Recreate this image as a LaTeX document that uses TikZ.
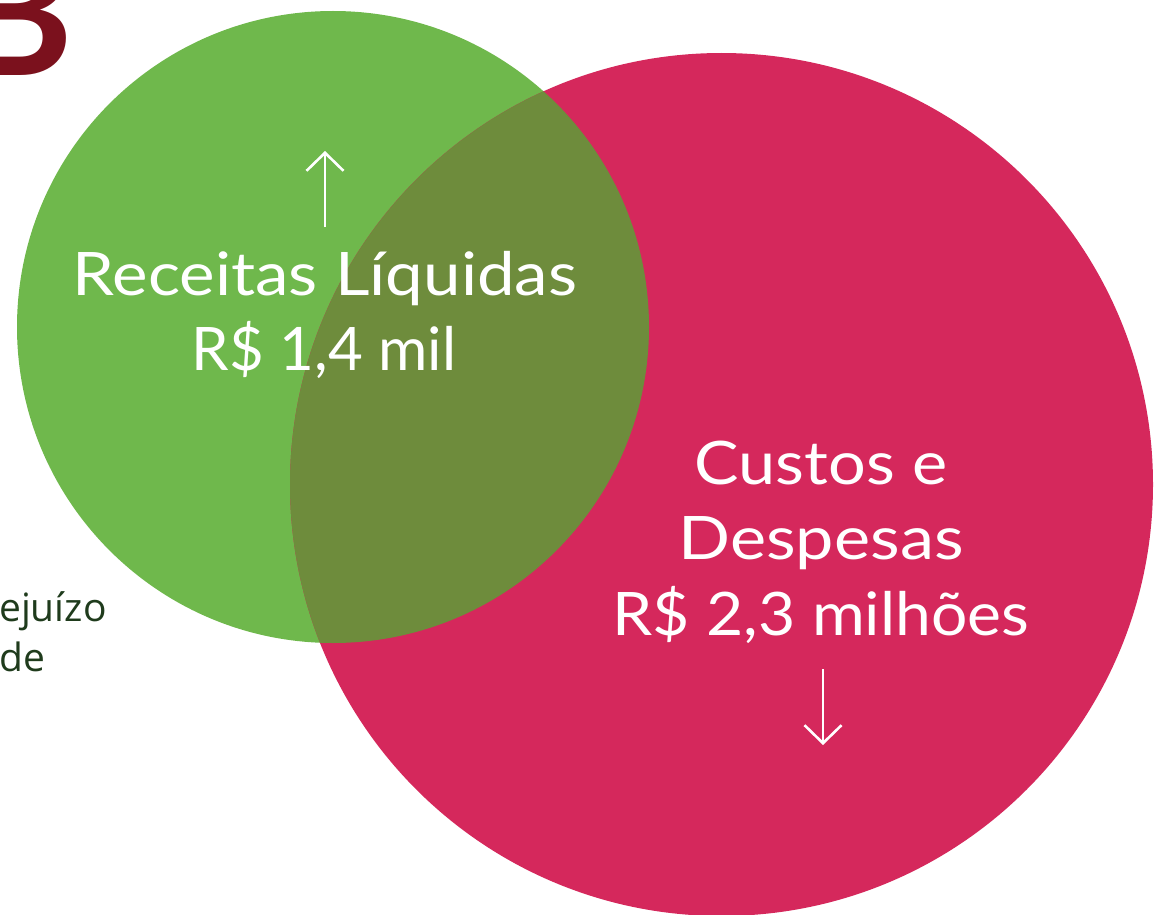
\documentclass[tikz,border=0pt]{standalone}
\usepackage{fontspec}
\setmainfont{Lato}
\newfontfamily\sidefont{Open Sans}
\usetikzlibrary{arrows.meta}
\definecolor{vgreen}{HTML}{6FB84C}
\definecolor{vred}{HTML}{D5285C}
\definecolor{volive}{HTML}{6E8C3C}
\definecolor{bred}{HTML}{7B111D}
\definecolor{dgreen}{HTML}{1F3B1C}
\newcommand{\wide}[2]{\scalebox{#1}[1]{#2}}
\tikzset{
  biglabel/.style={text=white,inner sep=0pt,anchor=base,font=\fontsize{60}{72}\selectfont},
  sidetext/.style={text=dgreen,inner sep=0pt,anchor=base west,font=\sidefont\fontsize{39}{46}\selectfont},
  trendarrow/.style={white,line width=2.6pt,-{Straight Barb[length=18pt,width=37pt,line width=2.6pt]}}
}
\begin{document}
\begin{tikzpicture}[x=1pt,y=-1pt]
\useasboundingbox (0,0) rectangle (1156,915);
\clip (0,0) rectangle (1156,915);
% circles
\fill[vgreen] (333,327) circle[radius=316];
\fill[vred] (721.5,484.5) circle[radius=431.5];
\begin{scope}
  \clip (333,327) circle[radius=316];
  \fill[volive] (721.5,484.5) circle[radius=431.5];
\end{scope}
% partial letter top-left
\node[text=bred,inner sep=0pt,anchor=base east,font=\fontsize{175}{175}\selectfont\bfseries] (bigB) at (74,76) {B};
% side text
\node[sidetext] (t1) at (-1,621) {ejuízo};
\node[sidetext] (t2) at (-1,671) {de};
% labels
\node[biglabel] (rec1) at (325,295) {\wide{1.12}{Receitas Líquidas}};
\node[biglabel] (rec2) at (324,370) {R\$ 1,4 mil};
\node[biglabel] (cus1) at (821,484) {\wide{1.11}{Custos e}};
\node[biglabel] (cus2) at (821,559) {\wide{1.14}{Despesas}};
\node[biglabel] (cus3) at (821,635) {\wide{1.07}{R\$ 2,3 milhões}};
% arrows
\coordinate (upA) at (325,227);
\coordinate (upB) at (325,151);
\coordinate (dnA) at (823,669);
\coordinate (dnB) at (823,745);
\draw[trendarrow] (upA) -- (upB);
\draw[trendarrow] (dnA) -- (dnB);
\end{tikzpicture}
\end{document}
